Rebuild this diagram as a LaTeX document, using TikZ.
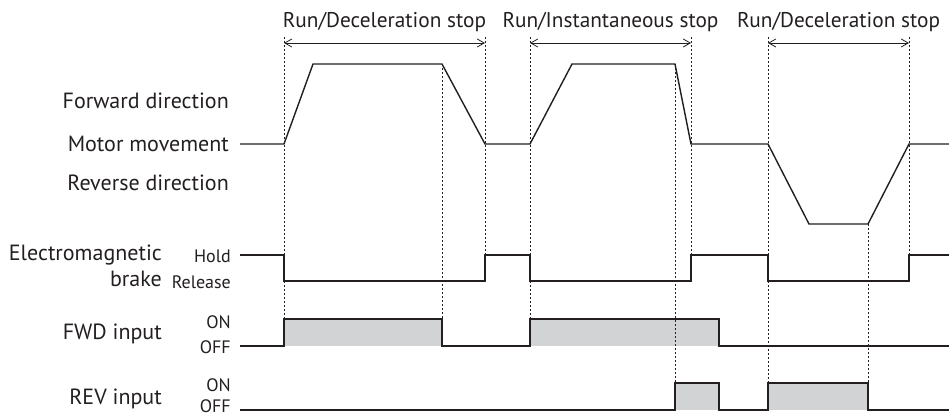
\documentclass[tikz,border=0pt]{standalone}
\usepackage{fontspec}
\setmainfont{PT Sans}
\usetikzlibrary{arrows.meta}
\definecolor{ink}{HTML}{231F20}
\definecolor{ongray}{HTML}{D1D3D4}

\begin{document}
\begin{tikzpicture}[x=1pt,y=-1pt,
    sig/.style={line width=1.4pt,draw=ink,line join=miter},
    guide/.style={line width=0.7pt,draw=ink,dash pattern=on 2.2pt off 1.8pt},
    span/.style={line width=0.8pt,draw=ink,{Straight Barb[length=7pt,width=8pt]}-{Straight Barb[length=7pt,width=8pt]}},
    big/.style={font=\fontsize{22}{25}\selectfont,text=ink,anchor=base east,inner sep=0pt},
    small/.style={font=\fontsize{18}{21}\selectfont,text=ink,anchor=base east,inner sep=0pt},
    head/.style={font=\fontsize{21.3}{25}\selectfont,text=ink,anchor=base,inner sep=0pt}]
  \useasboundingbox (0,0) rectangle (949,417);
  \foreach \a/\b/\t in {284/442/319,530/719/319,675/719/383,768/868/383} {
    \fill[ongray] (\a,\t) rectangle (\b,\t+27);
  }
  \foreach \x/\a/\b in {284/37/319,442/64/319,485/37/255,530/37/319,675/64/383,
                        691/37/255,768/37/383,868/224/383,909/37/255} {
    \draw[guide] (\x,\a) -- (\x,\b);
  }
  \foreach \a/\b/\t [count=\i] in {284/485/{Run/Deceleration stop},
                                   530/691/{Run/Instantaneous stop},
                                   768/909/{Run/Deceleration stop}} {
    \draw[span] (\a,43) -- (\b,43);
    \node[head] (run\i) at ({(\a+\b)/2},28) {\t};
  }
  \draw[sig] (240,144) -- (284,144) -- (313,64) -- (442,64) -- (485,144) -- (530,144)
    -- (572,64) -- (675,64) -- (691,144) -- (768,144) -- (809,224) -- (868,224)
    -- (909,144) -- (949,144);
  \draw[sig] (240,255) -- (284,255) |- (485,281) |- (530,255) |- (691,281) |- (768,255)
    |- (909,281) |- (949,255);
  \draw[sig] (240,346) -- (284,346) |- (442,319) |- (530,346) |- (719,319) |- (949,346);
  \draw[sig] (240,410) -- (675,410) |- (719,383) |- (768,410) |- (868,383) |- (949,410);
  \node[big] (fwddir) at (229,108) {Forward direction};
  \node[big] (motor) at (229,151) {Motor movement};
  \node[big] (revdir) at (229,190) {Reverse direction};
  \node[big] (brake1) at (162,260) {Electromagnetic};
  \node[big] (brake2) at (162,286) {brake};
  \node[big] (fwdin) at (162,339) {FWD input};
  \node[big] (revin) at (162,404) {REV input};
  \foreach \t/\y [count=\i] in {Hold/262,Release/288,ON/328,OFF/353,ON/391,OFF/412} {
    \node[small] (lvl\i) at (231,\y) {\t};
  }
\end{tikzpicture}
\end{document}
